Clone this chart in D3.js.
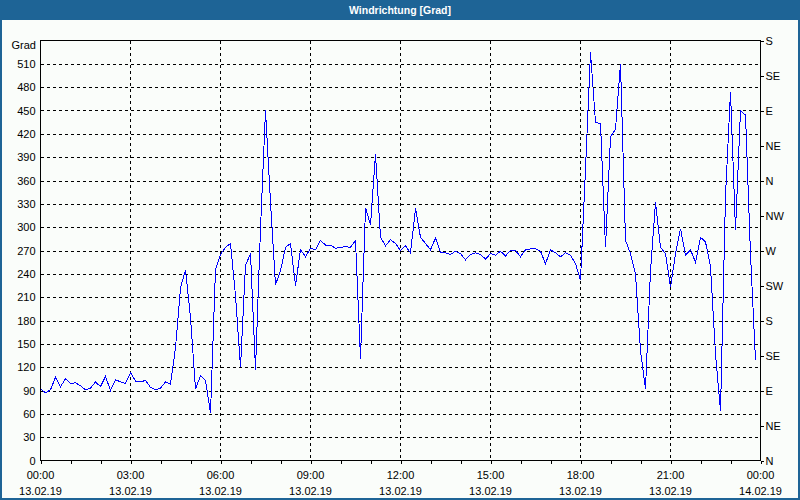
<!DOCTYPE html>
<html>
<head>
<meta charset="utf-8">
<script src="https://cdn.jsdelivr.net/npm/d3@7"></script>
<style>
    body { margin: 0; background: #ffffff; }
    #chart svg { display: block; }
    text { font-family: "Liberation Sans", Arial, sans-serif; font-size: 11px; fill: #000; }
</style>
</head>
<body>
<div id="chart"></div>
<script>
// wind direction, 10 minute values, 13.02.19 00:00 .. 23:50
var startTime = new Date(2019, 1, 13, 0, 0);
var endTime = new Date(2019, 1, 14, 0, 0);
var stepMinutes = 10;

var values = [
    92, 87, 91, 107, 95, 105, 99, 100, 96, 91, 93, 101, 95, 108, 90, 104, 101, 99,
    113, 102, 101, 103, 94, 91, 93, 101, 98, 145, 222, 245, 184, 92, 109, 103, 61, 246,
    265, 274, 279, 212, 120, 251, 266, 117, 298, 450, 332, 226, 244, 274, 279, 225, 271, 262,
    273, 271, 283, 277, 277, 273, 274, 275, 274, 283, 131, 325, 303, 394, 287, 276, 284, 279,
    270, 276, 267, 324, 287, 279, 271, 286, 268, 267, 265, 269, 266, 258, 265, 267, 265, 259,
    266, 264, 269, 263, 270, 270, 262, 271, 272, 272, 269, 253, 271, 267, 262, 267, 264, 253,
    232, 375, 525, 435, 433, 274, 416, 426, 510, 283, 266, 240, 141, 92, 244, 332, 274, 266,
    223, 266, 298, 264, 271, 255, 287, 281, 249, 137, 64, 340, 474, 296, 450, 444, 265, 129
];

var gradTicks = [0, 30, 60, 90, 120, 150, 180, 210, 240, 270, 300, 330, 360, 390, 420, 450, 480, 510];
var compassTicks = [0, 45, 90, 135, 180, 225, 270, 315, 360, 405, 450, 495, 540];
var compassLabels = ["N", "NE", "E", "SE", "S", "SW", "W", "NW", "N", "NE", "E", "SE", "S"];

var title = "Windrichtung [Grad]";
var unitLabel = "Grad";

var width = 800,
    height = 500,
    margin = { top: 40.5, right: 39.5, bottom: 39.5, left: 40.5 };

var data = values.map(function (v, i) {
    return { time: new Date(startTime.getTime() + i * stepMinutes * 60000), value: v };
});

var svg = d3.select("#chart")
    .append("svg")
    .attr("width", width)
    .attr("height", height);

// frame + title bar
svg.append("rect")
    .attr("x", 0).attr("y", 0)
    .attr("width", width).attr("height", height)
    .attr("fill", "#1e6496");

svg.append("rect")
    .attr("x", 2).attr("y", 20)
    .attr("width", width - 4).attr("height", height - 22)
    .attr("fill", "#fafdfa");

svg.append("text")
    .attr("x", width / 2)
    .attr("y", 14)
    .attr("text-anchor", "middle")
    .style("font-weight", "bold")
    .style("font-size", "10.5px")
    .style("fill", "#ffffff")
    .text(title);

var x = d3.scaleTime()
    .domain([startTime, endTime])
    .range([margin.left, width - margin.right]);

var y = d3.scaleLinear()
    .domain([0, 540])
    .range([height - margin.bottom, margin.top]);

// grid
svg.append("g")
    .selectAll("line")
    .data(gradTicks.filter(function (d) { return d > 0; }))
    .enter()
    .append("line")
    .attr("x1", margin.left)
    .attr("x2", width - margin.right)
    .attr("y1", function (d) { return Math.round(y(d)) + 0.5; })
    .attr("y2", function (d) { return Math.round(y(d)) + 0.5; })
    .attr("stroke", "#000")
    .attr("stroke-dasharray", "3,3")
    .attr("shape-rendering", "crispEdges");

var gridHours = d3.timeHour.every(3).range(new Date(2019, 1, 13, 3), endTime);

svg.append("g")
    .selectAll("line")
    .data(gridHours)
    .enter()
    .append("line")
    .attr("x1", function (d) { return x(d); })
    .attr("x2", function (d) { return x(d); })
    .attr("y1", margin.top)
    .attr("y2", height - margin.bottom)
    .attr("stroke", "#000")
    .attr("stroke-dasharray", "3,3")
    .attr("shape-rendering", "crispEdges");

// line
var line = d3.line()
    .x(function (d) { return x(d.time); })
    .y(function (d) { return y(d.value); });

svg.append("path")
    .datum(data)
    .attr("d", line)
    .attr("fill", "none")
    .attr("stroke", "#0000ff")
    .attr("stroke-width", 1)
    .attr("shape-rendering", "crispEdges");

// plot frame
svg.append("rect")
    .attr("x", margin.left)
    .attr("y", margin.top)
    .attr("width", width - margin.left - margin.right)
    .attr("height", height - margin.top - margin.bottom)
    .attr("fill", "none")
    .attr("stroke", "#000")
    .attr("shape-rendering", "crispEdges");

// left axis
var leftAxis = svg.append("g")
    .attr("transform", "translate(" + margin.left + ",0)")
    .call(d3.axisLeft(y).tickValues(gradTicks).tickSize(0).tickPadding(5));
leftAxis.select(".domain").remove();
leftAxis.selectAll("text").style("font-size", "11px").attr("font-family", null);

svg.append("text")
    .attr("x", 36)
    .attr("y", 49)
    .attr("text-anchor", "end")
    .text(unitLabel);

// right axis
var rightAxis = svg.append("g")
    .attr("transform", "translate(" + (width - margin.right) + ",0)")
    .call(d3.axisRight(y).tickValues(compassTicks).tickSize(3).tickPadding(2)
        .tickFormat(function (d, i) { return compassLabels[i]; }));
rightAxis.select(".domain").remove();
rightAxis.selectAll("line").attr("shape-rendering", "crispEdges");
rightAxis.selectAll("text").style("font-size", "11px").attr("font-family", null);

// bottom axis
var bottomAxis = svg.append("g")
    .attr("transform", "translate(0," + (height - margin.bottom) + ")")
    .call(d3.axisBottom(x).ticks(d3.timeHour.every(1)).tickSize(3).tickFormat(""));
bottomAxis.select(".domain").remove();
bottomAxis.selectAll("line").attr("shape-rendering", "crispEdges");

var labelHours = d3.timeHour.every(3).range(startTime, new Date(2019, 1, 14, 0, 1));
var fmtTime = d3.timeFormat("%H:%M"),
    fmtDate = d3.timeFormat("%d.%m.%y");

var labels = svg.append("g")
    .selectAll("g")
    .data(labelHours)
    .enter()
    .append("g")
    .attr("transform", function (d) { return "translate(" + x(d) + "," + (height - margin.bottom) + ")"; });

labels.append("text")
    .attr("y", 18)
    .attr("text-anchor", "middle")
    .text(function (d) { return fmtTime(d); });

labels.append("text")
    .attr("y", 34)
    .attr("text-anchor", "middle")
    .text(function (d) { return fmtDate(d); });
</script>
</body>
</html>
